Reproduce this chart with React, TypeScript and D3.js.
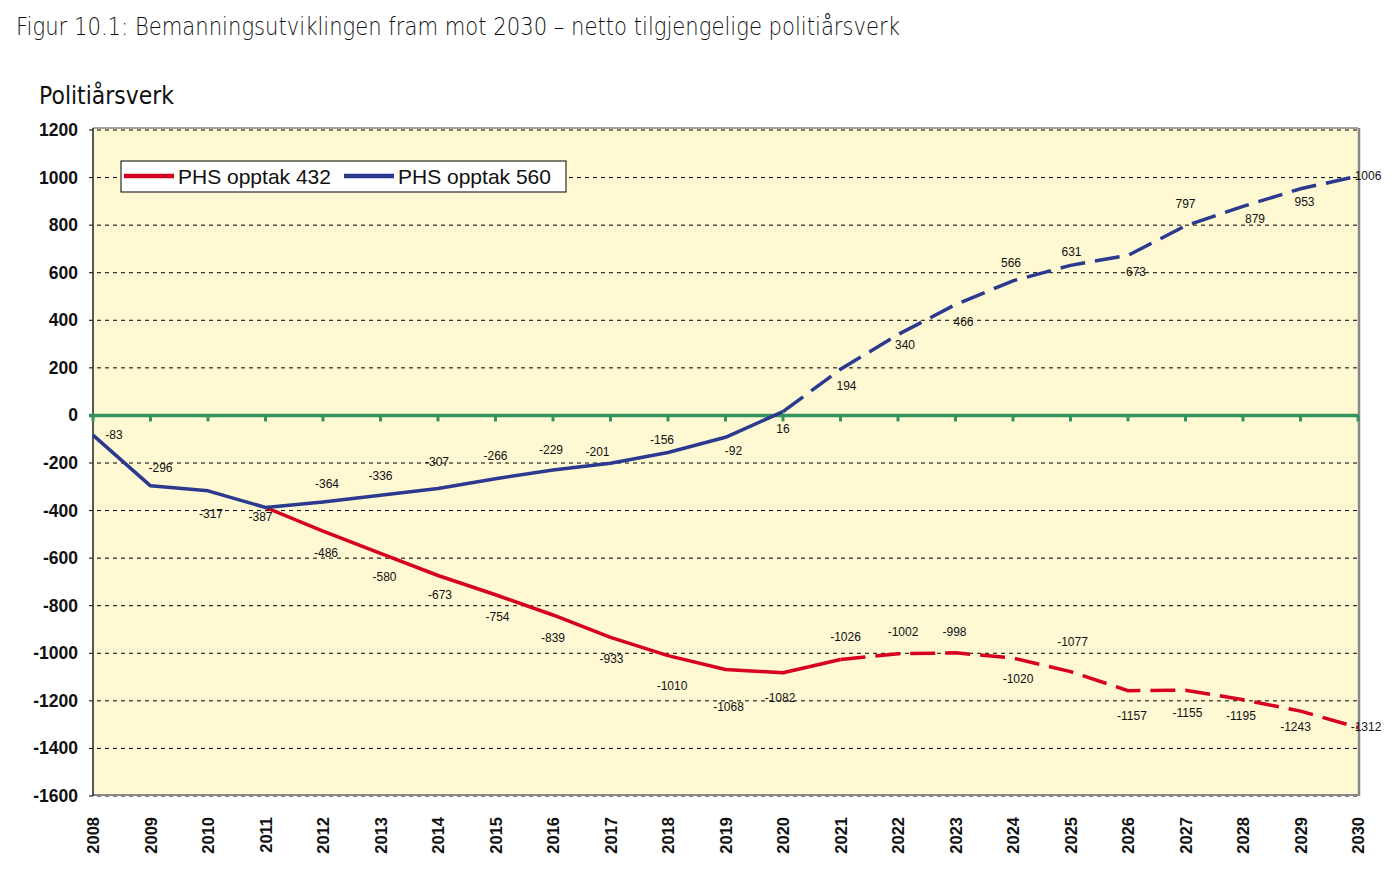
import React from "react";
import * as d3 from "d3";

const years = d3.range(2008, 2031);
const yTicks = [1200, 1000, 800, 600, 400, 200, 0, -200, -400, -600, -800, -1000, -1200, -1400, -1600];

// PHS opptak 560 (blue), 2008-2030
const blueValues = [-83, -296, -317, -387, -364, -336, -307, -266, -229, -201, -156, -92, 16, 194, 340, 466, 566, 631, 673, 797, 879, 953, 1006];
const blueLabels = ["-83", "-296", "-317", "-387", "-364", "-336", "-307", "-266", "-229", "-201", "-156", "-92", "16", "194", "340", "466", "566", "631", "673", "797", "879", "953", "1006"];
// label offsets (dx, dy) relative to point
const blueLabelOffsets: [number, number][] = [
  [21, 0], [10, -18], [3, 23], [-5, 10], [4, -18], [0, -19], [-1, -26], [0, -23], [-2, -20], [-13, -11], [-6, -13], [8, 14], [0, 17],
  [6, 17], [7, 10], [8, 17], [-2, -18], [1, -13], [8, 17], [0, -22], [12, 13], [4, 13], [10, 0],
];
const blueProjectionStart = 2020;

// PHS opptak 432 (red), 2011-2030
const redYears = d3.range(2011, 2031);
const redValues = [-387, -486, -580, -673, -754, -839, -933, -1010, -1068, -1082, -1026, -1002, -998, -1020, -1077, -1157, -1155, -1195, -1243, -1312];
const redLabels = ["", "-486", "-580", "-673", "-754", "-839", "-933", "-1010", "-1068", "-1082", "-1026", "-1002", "-998", "-1020", "-1077", "-1157", "-1155", "-1195", "-1243", "-1312"];
const redLabelOffsets: [number, number][] = [
  [0, 0], [3, 22], [4, 24], [2, 19], [2, 22], [0, 23], [1, 22], [4, 30], [3, 38], [-3, 25],
  [5, -22], [5, -22], [-1, -21], [5, 21], [2, -30], [4, 25], [2, 23], [-2, 16], [-5, 16], [8, 0],
];
const redProjectionStart = 2021;

const seriesNames = ["PHS opptak 432", "PHS opptak 560"];
const titleText = "Figur 10.1: Bemanningsutviklingen fram mot 2030 – netto tilgjengelige politiårsverk";
const yAxisTitle = "Politiårsverk";

const RED = "#D7001E";
const BLUE = "#2B3A8F";
const GREEN = "#339460";
const BG = "#FEF8D3";

export default function App() {
  const left = 93, right = 1358, top = 130, bottom = 796;
  const x = d3.scaleLinear().domain([2008, 2030]).range([left, right]);
  const y = d3.scaleLinear().domain([-1600, 1200]).range([bottom, top]);

  const line = d3.line<[number, number]>().x((d) => x(d[0])).y((d) => y(d[1]));

  const blue: [number, number][] = years.map((yr, i) => [yr, blueValues[i]]);
  const red: [number, number][] = redYears.map((yr, i) => [yr, redValues[i]]);
  const blueSolid = blue.filter((d) => d[0] <= blueProjectionStart);
  const blueDash = blue.filter((d) => d[0] >= blueProjectionStart);
  const redSolid = red.filter((d) => d[0] <= redProjectionStart);
  const redDash = red.filter((d) => d[0] >= redProjectionStart);

  const labelFont = "Arial, 'Liberation Sans', sans-serif";

  return (
    <svg width={1400} height={883} style={{ position: "absolute", left: 0, top: 0, background: "#fff" }}>
      <text x={16} y={35} fontFamily="'DejaVu Sans', sans-serif" fontSize={24} fontWeight={300}
        textLength={884} lengthAdjust="spacingAndGlyphs" fill="#111">{titleText}</text>
      <text x={39} y={104} fontFamily="'DejaVu Sans', sans-serif" fontSize={25}
        textLength={135} lengthAdjust="spacingAndGlyphs" fill="#111">{yAxisTitle}</text>

      {/* plot background */}
      <rect x={left} y={top - 2} width={right - left} height={bottom - top + 2} fill={BG} />

      {/* gridlines */}
      {yTicks.filter((t) => t !== 0).map((t) => (
        <line key={"g" + t} x1={left - 4} x2={right} y1={y(t)} y2={y(t)} stroke="#000" strokeWidth={1} strokeDasharray="4,4" />
      ))}

      {/* border */}
      <line x1={left} x2={right} y1={top - 2} y2={top - 2} stroke="#888" strokeWidth={1.5} />
      <line x1={right + 1} x2={right + 1} y1={top - 2} y2={bottom} stroke="#888" strokeWidth={2.5} />
      <line x1={left} x2={right + 2} y1={bottom - 1} y2={bottom - 1} stroke="#888" strokeWidth={2} />
      <line x1={left} x2={left} y1={top - 2} y2={bottom} stroke="#222" strokeWidth={1.5} />

      {/* y tick labels */}
      {yTicks.map((t) => (
        <text key={"yl" + t} x={78} y={y(t) + 6} textAnchor="end" fontFamily={labelFont} fontWeight="bold" fontSize={17.5} fill="#111">{t}</text>
      ))}

      {/* zero line with ticks */}
      <line x1={left - 4} x2={right} y1={y(0)} y2={y(0)} stroke={GREEN} strokeWidth={3.5} />
      {years.map((yr) => (
        <line key={"zt" + yr} x1={x(yr)} x2={x(yr)} y1={y(0)} y2={y(0) + 6} stroke={GREEN} strokeWidth={3} />
      ))}

      {/* x tick labels */}
      {years.map((yr) => (
        <text key={"xl" + yr} transform={`translate(${x(yr) + 6},${817}) rotate(-90)`} textAnchor="end"
          fontFamily={labelFont} fontWeight="bold" fontSize={16.5} fill="#111">{yr}</text>
      ))}

      {/* lines */}
      <path d={line(redSolid) || ""} fill="none" stroke={RED} strokeWidth={3.5} strokeLinejoin="round" />
      <path d={line(redDash) || ""} fill="none" stroke={RED} strokeWidth={3.5} strokeDasharray="25,10" />
      <path d={line(blueSolid) || ""} fill="none" stroke={BLUE} strokeWidth={3.5} strokeLinejoin="round" />
      <path d={line(blueDash) || ""} fill="none" stroke={BLUE} strokeWidth={3.5} strokeDasharray="25,10" />

      {/* data labels */}
      {blue.map((d, i) => (
        <text key={"bl" + i} x={x(d[0]) + blueLabelOffsets[i][0]} y={y(d[1]) + blueLabelOffsets[i][1] + 4}
          textAnchor="middle" fontFamily={labelFont} fontSize={12} fill="#111">{blueLabels[i]}</text>
      ))}
      {red.map((d, i) => redLabels[i] ? (
        <text key={"rl" + i} x={x(d[0]) + redLabelOffsets[i][0]} y={y(d[1]) + redLabelOffsets[i][1] + 4}
          textAnchor="middle" fontFamily={labelFont} fontSize={12} fill="#111">{redLabels[i]}</text>
      ) : null)}

      {/* legend */}
      <rect x={121} y={161} width={445} height={31} fill="#fff" stroke="#000" strokeWidth={1} />
      <line x1={124} x2={174} y1={176} y2={176} stroke={RED} strokeWidth={4.5} />
      <text x={178} y={184} fontFamily={labelFont} fontSize={21} fill="#111">{seriesNames[0]}</text>
      <line x1={344} x2={394} y1={176} y2={176} stroke={BLUE} strokeWidth={4.5} />
      <text x={398} y={184} fontFamily={labelFont} fontSize={21} fill="#111">{seriesNames[1]}</text>
    </svg>
  );
}
